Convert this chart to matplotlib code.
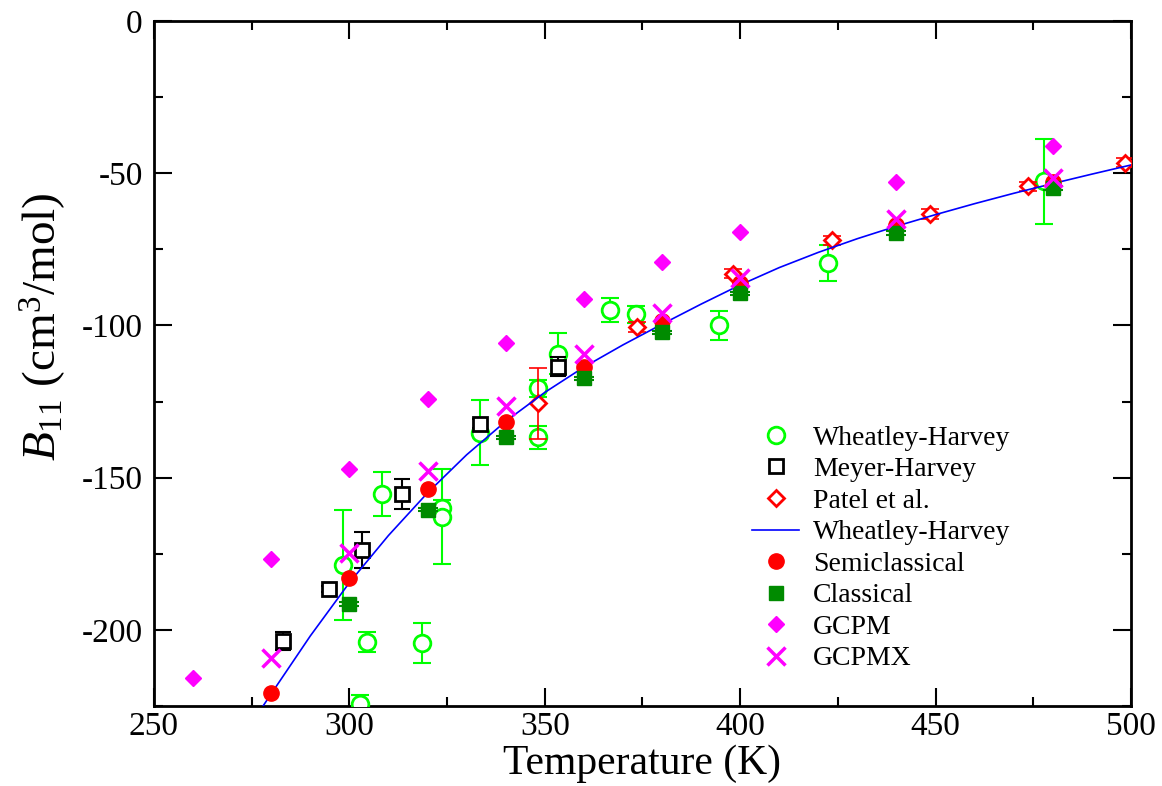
import matplotlib
matplotlib.use('Agg')
import matplotlib.pyplot as plt
from matplotlib.ticker import MultipleLocator

# Wheatley-Harvey experimental data (T in K, B11 in cm^3/mol, error)
whT = [298.4, 302.7, 304.5, 308.3, 318.6, 323.7, 323.7, 333.4, 348.3, 348.3, 353.4, 366.7, 373.3, 394.5, 422.5, 477.7]
whB = [-178.6, -224.3, -204.0, -155.3, -204.3, -160.0, -162.8, -135.2, -120.7, -136.8, -109.3, -95.0, -96.4, -100.0, -79.5, -52.6]
whErr = [18.0, 3.0, 3.2, 7.3, 6.7, 2.7, 15.5, 10.7, 2.7, 3.8, 6.7, 4.0, 2.7, 4.7, 6.0, 14.0]

# Meyer-Harvey
mhT = [283.0, 294.8, 303.2, 313.5, 333.4, 353.4]
mhB = [-203.6, -186.5, -173.7, -155.3, -132.3, -113.5]
mhErr = [3.0, 1.0, 6.0, 5.0, 1.5, 3.0]

# Patel et al.
patT = [348.3, 373.5, 398.2, 423.5, 448.6, 473.6, 498.5]
patB = [-125.6, -100.5, -83.0, -72.0, -63.4, -54.3, -46.6]
patErr = [11.7, 1.5, 1.5, 1.5, 1.5, 1.5, 1.5]

# Wheatley-Harvey fit curve
curveT = [277.5, 280, 290, 300, 310, 320, 330, 340, 350, 360, 370, 380, 390, 400,
          410, 420, 430, 440, 450, 460, 470, 480, 490, 500]
curveB = [-225.8, -221, -202, -184.5, -169, -155, -142.5, -131.5, -122, -113.7, -106.4, -99.6, -93, -86.7,
          -81, -76, -71.5, -67.4, -63.6, -60, -56.6, -53.4, -50.3, -47.3]

# simulations
semiT = [280, 300, 320, 340, 360, 380, 400, 440, 480]
semiB = [-220.7, -182.9, -153.6, -131.6, -113.5, -98.4, -86.2, -67.1, -52.8]

classT = [300, 320, 340, 360, 380, 400, 440, 480]
classB = [-191.4, -160.5, -136.8, -117.4, -102.3, -89.5, -69.6, -54.9]
classErr = [0.6, 0.6, 0.6, 0.6, 0.6, 0.6, 0.6, 0.6]

gcpmT = [260, 280, 300, 320, 340, 360, 380, 400, 440, 480]
gcpmB = [-215.8, -176.6, -147.0, -124.3, -105.9, -91.4, -79.3, -69.3, -53.0, -41.0]

gcpmxT = [280, 300, 320, 340, 360, 380, 400, 440, 480]
gcpmxB = [-209.2, -174.7, -147.7, -126.6, -109.5, -96.0, -84.3, -65.1, -51.6]

plt.rcParams['font.family'] = 'Liberation Serif'
plt.rcParams['mathtext.fontset'] = 'custom'
plt.rcParams['mathtext.rm'] = 'Liberation Serif'
plt.rcParams['mathtext.it'] = 'Liberation Serif:italic'
plt.rcParams['axes.unicode_minus'] = False

green = '#00ff00'
dkgreen = '#008b00'
magenta = '#ff00ff'

fig = plt.figure(figsize=(11.62, 7.86), dpi=100)
ax = fig.add_axes([0.1325, 0.1018, 0.8408, 0.8715])

ax.errorbar(whT, whB, yerr=whErr, fmt='none', ecolor=green, elinewidth=1.5, capsize=6.5, capthick=1.5, zorder=2)
ax.plot(whT, whB, 'o', ms=12, mfc='white', mec=green, mew=2, label='Wheatley-Harvey', zorder=3)

ax.errorbar(mhT, mhB, yerr=mhErr, fmt='none', ecolor='black', elinewidth=1.5, capsize=5.5, capthick=1.5, zorder=4)
ax.plot(mhT, mhB, 's', ms=10, mfc='white', mec='black', mew=2, label='Meyer-Harvey', zorder=5)

ax.errorbar(patT, patB, yerr=patErr, fmt='none', ecolor='red', elinewidth=1.2, capsize=6.5, capthick=1.2, zorder=6)
ax.plot(patT, patB, 'D', ms=8, mfc='white', mec='red', mew=2, label='Patel et al.', zorder=7)

ax.plot(curveT, curveB, '-', color='blue', lw=1.2, label='Wheatley-Harvey', zorder=8)

ax.plot(semiT, semiB, 'o', ms=11, color='red', mec='red', label='Semiclassical', zorder=9)

ax.errorbar(classT, classB, yerr=classErr, fmt='none', ecolor=dkgreen, elinewidth=1.5, capsize=7, capthick=1.5, zorder=10)
ax.plot(classT, classB, 's', ms=9.5, color=dkgreen, mec=dkgreen, label='Classical', zorder=11)

ax.plot(gcpmT, gcpmB, 'D', ms=8, color=magenta, mec=magenta, label='GCPM', zorder=12)
ax.plot(gcpmxT, gcpmxB, 'x', ms=13, color=magenta, mew=2.5, label='GCPMX', zorder=13)

ax.set_xlim(250, 500)
ax.set_ylim(-225, 0)
ax.xaxis.set_major_locator(MultipleLocator(50))
ax.xaxis.set_minor_locator(MultipleLocator(25))
ax.yaxis.set_major_locator(MultipleLocator(50))
ax.yaxis.set_minor_locator(MultipleLocator(25))
ax.tick_params(which='both', direction='in', top=True, right=True, width=1.5)
ax.tick_params(which='major', length=13, labelsize=24)
ax.tick_params(axis='x', which='major', pad=4)
ax.tick_params(axis='y', which='major', pad=8)
ax.tick_params(which='minor', length=6.5)
for s in ax.spines.values():
    s.set_linewidth(2)

ax.set_xlabel('Temperature (K)', fontsize=30, labelpad=2)
ax.set_ylabel(r'$B_{11}$ (cm$^{3}$/mol)', fontsize=34)
ax.yaxis.set_label_coords(-0.088, 0.553)

ax.legend(loc='upper left', bbox_to_anchor=(0.612, 0.41), frameon=False, fontsize=20,
          borderpad=0, borderaxespad=0, handlelength=1.7, handletextpad=0.5, labelspacing=0.22)

fig.savefig('out.png', dpi=100)
